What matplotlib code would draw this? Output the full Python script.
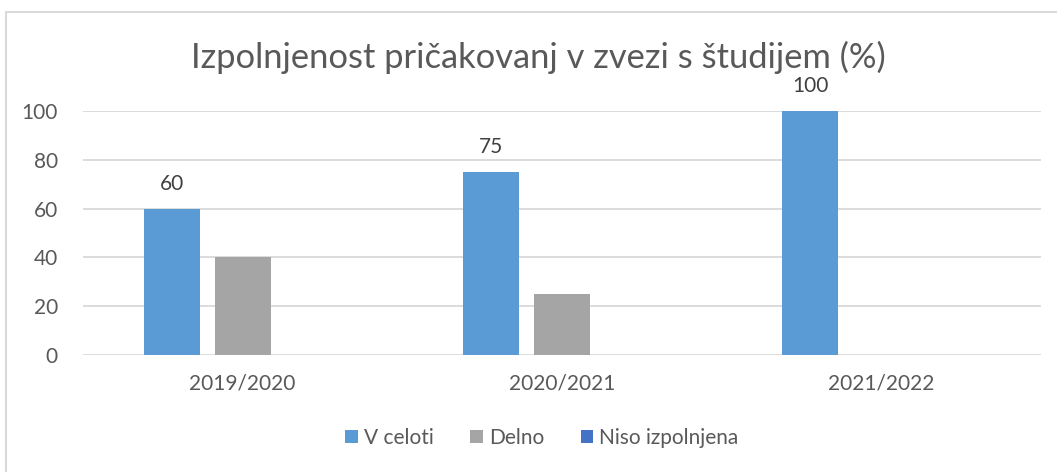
import matplotlib.pyplot as plt
from matplotlib.patches import Rectangle
import numpy as np

plt.rcParams['font.family'] = ['Lato', 'DejaVu Sans']

categories = ["2019/2020", "2020/2021", "2021/2022"]
series_names = ["V celoti", "Delno", "Niso izpolnjena"]
v_celoti = [60, 75, 100]
delno = [40, 25, 0]
niso = [0, 0, 0]
colors = ["#5B9BD5", "#A5A5A5", "#4472C4"]
text_color = "#595959"

W, H = 1057, 472
fig = plt.figure(figsize=(W / 100, H / 100), dpi=100)

# chart border (runs off the right and bottom edges)
fig.patches.append(Rectangle((6 / W, -0.2), 1.2, 0.2 + (H - 12) / H, transform=fig.transFigure,
                             fill=False, edgecolor="#D9D9D9", linewidth=1.5))

# plot area in pixels: x 83..1041, y 111..355
ax = fig.add_axes([83 / W, 1 - 355 / H, (1041 - 83) / W, (355 - 111) / H])

x = np.arange(len(categories))
bw = 0.175
step = 0.222
values = [v_celoti, delno, niso]
for i, (name, vals, c) in enumerate(zip(series_names, values, colors)):
    bars = ax.bar(x + (i - 1) * step, vals, width=bw, color=c, label=name, zorder=3)
    if i == 0:
        for b, v in zip(bars, vals):
            ax.text(b.get_x() + b.get_width() / 2, v + 6, str(v), ha="center", va="bottom",
                    fontsize=15, color="#404040")

ax.set_xlim(-0.5, 2.5)
ax.set_ylim(0, 100)
ax.set_yticks(range(0, 101, 20))
ax.set_xticks(x)
ax.set_xticklabels(categories)
ax.tick_params(axis="both", length=0, labelsize=15, labelcolor=text_color)
ax.tick_params(axis="x", pad=13)
ax.tick_params(axis="y", pad=18)
ax.grid(axis="y", color="#D9D9D9", linewidth=1.3, zorder=0)
for s in ax.spines.values():
    s.set_visible(False)

fig.text(538 / W, 1 - 57 / H, "Izpolnjenost pričakovanj v zvezi s študijem (%)",
         ha="center", va="center", fontsize=24.8, color=text_color)

fig.legend(loc="center", bbox_to_anchor=(542 / W, 1 - 438 / H), ncol=3, frameon=False,
           fontsize=15, labelcolor=text_color, handlelength=0.6, handleheight=0.6,
           handletextpad=0.3, columnspacing=1.75)

fig.savefig("out.png", dpi=100)
